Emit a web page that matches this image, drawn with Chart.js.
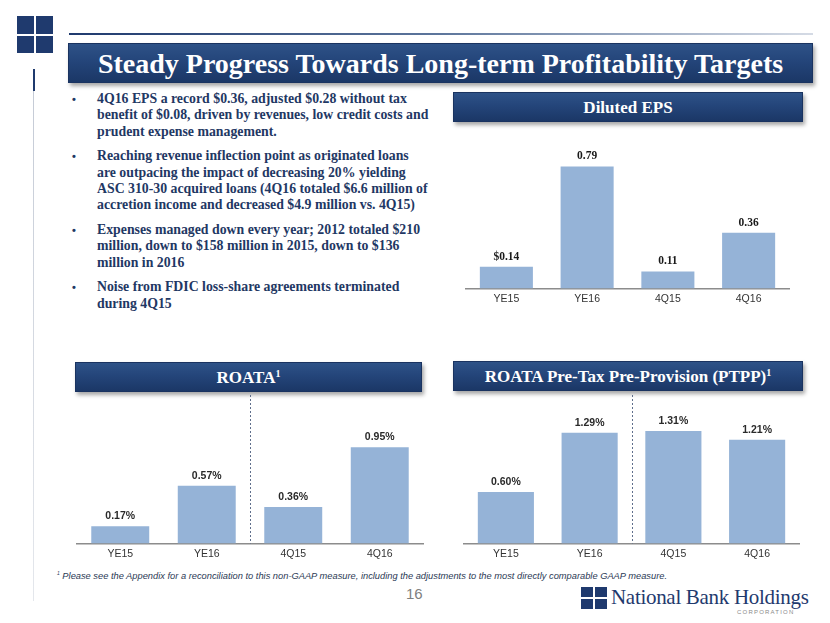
<!DOCTYPE html>
<html>
<head>
<meta charset="utf-8">
<script src="https://cdn.jsdelivr.net/npm/chart.js@4/dist/chart.umd.min.js"></script>
<style>
  html, body { margin:0; padding:0; background:#fff; }
  body { width:830px; height:623px; position:relative; overflow:hidden; font-family:"Liberation Sans", Arial, sans-serif; }
  .abs { position:absolute; }
  .sq { position:absolute; background:#1f3a6e; }
  .banner { position:absolute; background:linear-gradient(to bottom, #2e5287 0%, #24457a 45%, #1b3766 100%);
            box-shadow: 2px 3px 4px rgba(0,0,0,0.35); color:#fff; font-family:"Liberation Serif","Times New Roman",serif;
            font-weight:bold; text-align:center; white-space:nowrap; border:1px solid #1a3360; box-sizing:border-box; }
  .bullets { position:absolute; left:72px; top:91px; font-family:"Liberation Serif","Times New Roman",serif; font-weight:bold;
             font-size:13.8px; color:#1f3864; line-height:16.3px; }
  .bullets .item { position:relative; padding-left:25px; margin-bottom:8.5px; white-space:nowrap; }
  .bullets .item:before { content:"•"; position:absolute; left:0; top:0; font-family:Arial, sans-serif; font-size:11px; }
  canvas { position:absolute; }
</style>
</head>
<body>
<!-- top-left logo -->
<div class="sq" style="left:17px;top:16px;width:17px;height:18px"></div>
<div class="sq" style="left:36px;top:16px;width:17px;height:18px"></div>
<div class="sq" style="left:17px;top:36px;width:17px;height:17px"></div>
<div class="sq" style="left:36px;top:36px;width:17px;height:17px"></div>
<div class="abs" style="left:33px;top:69px;width:2px;height:22px;background:#1f3a6e"></div>
<div class="abs" style="left:33px;top:91px;width:1px;height:510px;background:linear-gradient(to bottom,#c5cbd6,#e4e7ec)"></div>
<div class="abs" style="left:69px;top:33px;width:744px;height:2px;background:linear-gradient(to right,#1f3a6e,#5d769c 50%,#d5dbe5)"></div>

<div class="banner" id="title" style="left:68px;top:43px;width:745px;height:40px;font-size:27px;line-height:39px;">Steady Progress Towards Long-term Profitability Targets</div>

<div class="bullets">
  <div class="item">4Q16 EPS a record $0.36, adjusted $0.28 without tax<br>benefit of $0.08, driven by revenues, low credit costs and<br>prudent expense management.</div>
  <div class="item">Reaching revenue inflection point as originated loans<br>are outpacing the impact of decreasing 20% yielding<br>ASC 310-30 acquired loans (4Q16 totaled $6.6 million of<br>accretion income and decreased $4.9 million vs. 4Q15)</div>
  <div class="item">Expenses managed down every year; 2012 totaled $210<br>million, down to $158 million in 2015, down to $136<br>million in 2016</div>
  <div class="item">Noise from FDIC loss-share agreements terminated<br>during 4Q15</div>
</div>

<div class="banner" style="left:453px;top:92px;width:350px;height:30px;font-size:17px;line-height:29px;">Diluted EPS</div>
<div class="banner" style="left:75px;top:362px;width:347px;height:30px;font-size:17px;line-height:29px;">ROATA<sup style="font-size:10px;vertical-align:6px;line-height:0">1</sup></div>
<div class="banner" style="left:453px;top:361px;width:350px;height:30px;font-size:17px;line-height:29px;">ROATA Pre-Tax Pre-Provision (PTPP)<sup style="font-size:10px;vertical-align:6px;line-height:0">1</sup></div>

<canvas id="eps" style="left:450px;top:130px" width="360" height="180"></canvas>
<canvas id="roata" style="left:60px;top:395px" width="380" height="170"></canvas>
<canvas id="ptpp" style="left:450px;top:395px" width="360" height="170"></canvas>

<div class="abs" style="left:57px;top:570px;font-size:9.3px;font-style:italic;color:#2b3a55;white-space:nowrap;"><sup style="font-size:5px">1</sup> Please see the Appendix for a reconciliation to this non-GAAP measure, including the adjustments to the most directly comparable GAAP measure.</div>
<div class="abs" style="left:406px;top:585px;font-size:15px;color:#808080;">16</div>

<!-- bottom-right logo -->
<div class="sq" style="left:581px;top:587px;width:12px;height:10px"></div>
<div class="sq" style="left:595px;top:587px;width:12px;height:10px"></div>
<div class="sq" style="left:581px;top:599px;width:12px;height:10px"></div>
<div class="sq" style="left:595px;top:599px;width:12px;height:10px"></div>
<div class="abs" style="left:611px;top:585px;font-family:'Liberation Serif','Times New Roman',serif;font-size:21px;color:#1f3a6e;white-space:nowrap;letter-spacing:-0.3px">National Bank Holdings</div>
<div class="abs" style="left:737px;top:609px;font-size:6px;color:#8a8a8a;letter-spacing:1.2px;">CORPORATION</div>

<script>
// ---- data ----
const categories = ["YE15", "YE16", "4Q15", "4Q16"];
const epsValues = [0.14, 0.79, 0.11, 0.36];
const epsLabels = ["$0.14", "0.79", "0.11", "0.36"];
const roataValues = [0.17, 0.57, 0.36, 0.95];
const roataLabels = ["0.17%", "0.57%", "0.36%", "0.95%"];
const ptppValues = [0.60, 1.29, 1.31, 1.21];
const ptppLabels = ["0.60%", "1.29%", "1.31%", "1.21%"];

// fit title text to width
(function(){
  const t = document.getElementById('title');
  const span = document.createElement('span'); span.textContent = t.textContent; t.textContent=''; t.appendChild(span);
  let fs = 32; span.style.display='inline-block'; t.style.fontSize = fs + 'px';
  while (span.offsetWidth > 686 && fs > 18) { fs -= 0.25; t.style.fontSize = fs + 'px'; }
})();

const valueLabelPlugin = {
  id: 'valueLabels',
  afterDatasetsDraw(chart, args, opts) {
    const ctx = chart.ctx;
    const meta = chart.getDatasetMeta(0);
    ctx.save();
    ctx.font = opts.font;
    ctx.fillStyle = opts.color;
    ctx.textAlign = 'center';
    ctx.textBaseline = 'middle';
    meta.data.forEach((el, i) => {
      ctx.fillText(opts.labels[i], el.x, el.y - opts.offset);
    });
    ctx.restore();
  }
};
const dividerPlugin = {
  id: 'divider',
  afterDatasetsDraw(chart, args, opts) {
    if (!opts.show) return;
    const x = chart.scales.x;
    const xp = (x.getPixelForValue(1) + x.getPixelForValue(2)) / 2;
    const ctx = chart.ctx;
    ctx.save();
    ctx.strokeStyle = '#5f6f8c';
    ctx.lineWidth = 1;
    ctx.setLineDash([2, 2]);
    ctx.beginPath();
    ctx.moveTo(Math.round(xp) + 0.5, opts.top);
    ctx.lineTo(Math.round(xp) + 0.5, chart.chartArea.bottom);
    ctx.stroke();
    ctx.restore();
  }
};

function makeChart(id, values, labels, max, pad, barPct, labelFont, labelColor, divider) {
  return new Chart(document.getElementById(id), {
    type: 'bar',
    data: { labels: categories, datasets: [{ data: values, backgroundColor: '#95b3d7', borderWidth: 0 }] },
    options: {
      responsive: false, animation: false,
      layout: { padding: pad },
      categoryPercentage: 1, barPercentage: barPct,
      plugins: {
        legend: { display: false }, tooltip: { enabled: false },
        valueLabels: { labels: labels, font: labelFont, color: labelColor, offset: 10 },
        divider: divider
      },
      scales: {
        x: {
          grid: { display: false, drawTicks: false },
          border: { display: true, color: '#8c8c8c', width: 1.5 },
          ticks: { color: '#333333', font: { family: "'Liberation Sans', Arial, sans-serif", size: 10.5 }, padding: 4 }
        },
        y: { display: false, min: 0, max: max }
      }
    },
    plugins: [valueLabelPlugin, dividerPlugin]
  });
}

makeChart('eps', epsValues, epsLabels, 148/154, { left: 16, right: 21, top: 10, bottom: 1 }, 0.657,
  "bold 11.5px 'Liberation Serif', 'Times New Roman', serif", '#1a1a1a', { show: false });
makeChart('roata', roataValues, roataLabels, 138/101, { left: 17, right: 17, top: 10, bottom: 1 }, 0.67,
  "bold 10.5px 'Liberation Sans', Arial, sans-serif", '#2a2a2a', { show: true, top: 0 });
makeChart('ptpp', ptppValues, ptppLabels, 138/85.5, { left: 14, right: 11, top: 10, bottom: 1 }, 0.67,
  "bold 10.5px 'Liberation Sans', Arial, sans-serif", '#2a2a2a', { show: true, top: 0 });
</script>
</body>
</html>
